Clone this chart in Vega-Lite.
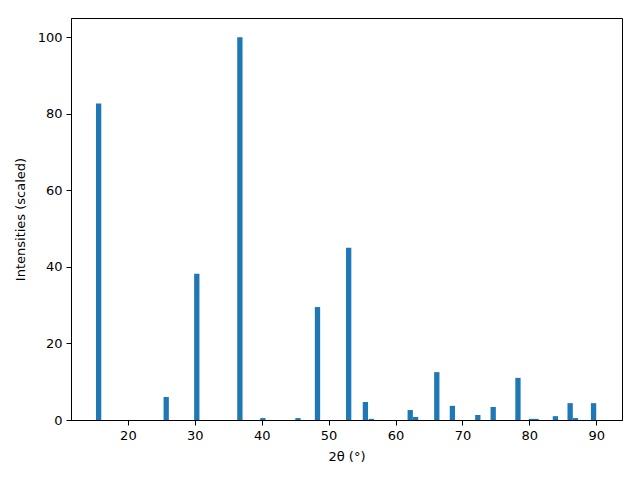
{
  "$schema": "https://vega.github.io/schema/vega-lite/v6.json",
  "width": 551,
  "height": 402,
  "autosize": {"type": "none"},
  "padding": {"left": 71, "top": 18, "right": 18, "bottom": 60},
  "background": "white",
  "config": {
    "view": {"stroke": "black", "strokeWidth": 1},
    "font": "DejaVu Sans",
    "axis": {
      "grid": false,
      "domainColor": "black",
      "tickColor": "black",
      "tickSize": 5,
      "labelFontSize": 13,
      "titleFontSize": 13,
      "labelColor": "black",
      "titleColor": "black",
      "titleFontWeight": "normal",
      "labelPadding": 4,
      "labelFont": "DejaVu Sans",
      "titleFont": "DejaVu Sans"
    }
  },
  "data": {
    "values": [
      {"two_theta": 15.63, "intensity": 82.7},
      {"two_theta": 25.73, "intensity": 6.0},
      {"two_theta": 30.3, "intensity": 38.2},
      {"two_theta": 36.74, "intensity": 100.0},
      {"two_theta": 40.18, "intensity": 0.5},
      {"two_theta": 45.42, "intensity": 0.5},
      {"two_theta": 48.34, "intensity": 29.5},
      {"two_theta": 53.0, "intensity": 45.0},
      {"two_theta": 55.5, "intensity": 4.7},
      {"two_theta": 56.4, "intensity": 0.3},
      {"two_theta": 62.2, "intensity": 2.6},
      {"two_theta": 63.0, "intensity": 0.8},
      {"two_theta": 66.17, "intensity": 12.5},
      {"two_theta": 68.5, "intensity": 3.7},
      {"two_theta": 72.3, "intensity": 1.3},
      {"two_theta": 74.6, "intensity": 3.4},
      {"two_theta": 78.3, "intensity": 11.0},
      {"two_theta": 80.3, "intensity": 0.3},
      {"two_theta": 81.0, "intensity": 0.3},
      {"two_theta": 83.9, "intensity": 1.0},
      {"two_theta": 86.1, "intensity": 4.4},
      {"two_theta": 86.9, "intensity": 0.5},
      {"two_theta": 89.6, "intensity": 4.4}
    ]
  },
  "mark": {"type": "bar", "color": "#1f77b4", "size": 5.3, "clip": true},
  "encoding": {
    "x": {
      "field": "two_theta",
      "type": "quantitative",
      "scale": {"domain": [11.5, 93.85], "nice": false, "zero": false, "padding": 0},
      "axis": {"values": [20, 30, 40, 50, 60, 70, 80, 90], "title": "2θ (°)", "titlePadding": 8}
    },
    "y": {
      "field": "intensity",
      "type": "quantitative",
      "scale": {"domain": [0, 105], "nice": false, "padding": 0},
      "axis": {"values": [0, 20, 40, 60, 80, 100], "title": "Intensities (scaled)", "titlePadding": 10}
    }
  }
}
